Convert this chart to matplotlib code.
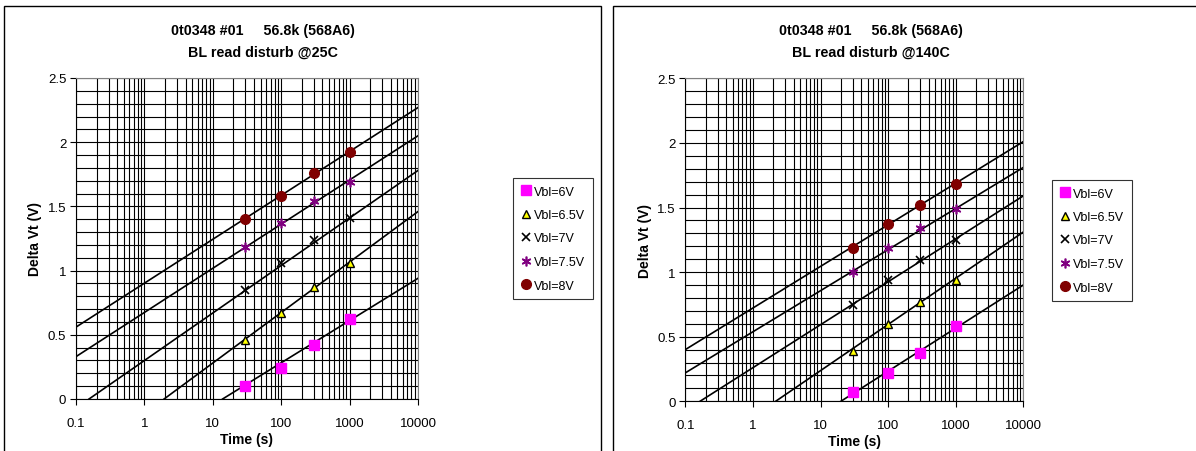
import matplotlib.pyplot as plt
from matplotlib.patches import Rectangle
from matplotlib.ticker import LogLocator, FixedLocator, NullFormatter

# --------------------------------------
# Data
# --------------------------------------
times = [30, 100, 300, 1000]
labels = ['Vbl=6V', 'Vbl=6.5V', 'Vbl=7V', 'Vbl=7.5V', 'Vbl=8V']

# measured points, 25C
pts_25 = [
    [0.10, 0.24, 0.42, 0.62],
    [0.46, 0.67, 0.87, 1.06],
    [0.85, 1.06, 1.24, 1.41],
    [1.18, 1.37, 1.54, 1.69],
    [1.40, 1.58, 1.76, 1.92],
]
# trend lines, 25C: (t start, dVt start, t end, dVt end)
fit_25 = [
    (13.9, 0.0, 10000, 0.94),
    (1.94, 0.0, 10000, 1.46),
    (0.155, 0.0, 10000, 1.78),
    (0.1, 0.33, 10000, 2.05),
    (0.1, 0.56, 10000, 2.27),
]

# measured points, 140C
pts_140 = [
    [0.075, 0.22, 0.37, 0.58],
    [0.39, 0.60, 0.77, 0.94],
    [0.745, 0.94, 1.09, 1.245],
    [1.00, 1.19, 1.34, 1.49],
    [1.19, 1.375, 1.52, 1.685],
]
fit_140 = [
    (20.0, 0.0, 10000, 0.90),
    (2.17, 0.0, 10000, 1.31),
    (0.165, 0.0, 10000, 1.59),
    (0.1, 0.22, 10000, 1.81),
    (0.1, 0.40, 10000, 2.01),
]

# style of each series (Excel look)
marqueurs = [
    dict(marker='s', color='#ff00ff', mec='#ff00ff', ms=6.5),
    dict(marker='^', color='#ffff00', mec='black', ms=5.5, mew=1.0),
    dict(marker='x', color='black', ms=6, mew=1.2),
    dict(marker=(6, 2, 0), color='#800080', ms=7, mew=1.2),
    dict(marker='o', color='#800000', mec='#800000', ms=7),
]

fig = plt.figure(figsize=(11.96, 4.52), dpi=100)
plt.rcParams['font.family'] = ['Liberation Sans', 'DejaVu Sans']

# cadres des deux graphiques
fig.patches.append(Rectangle((4 / 1196, -0.1), 597 / 1196, 1 - 7 / 452 + 0.1,
                             transform=fig.transFigure, fill=False, lw=1, ec='black'))
fig.patches.append(Rectangle((613 / 1196, -0.1), 600 / 1196, 1 - 7 / 452 + 0.1,
                             transform=fig.transFigure, fill=False, lw=1, ec='black'))


def trace(ax, pts, fits, titre, title_x, leg_x, leg_y):
    for i in range(len(labels)):
        t0, v0, t1, v1 = fits[i]
        ax.plot([t0, t1], [v0, v1], color='black', lw=1.2, zorder=3)
    for i in range(len(labels)):
        ax.plot(times, pts[i], ls='none', label=labels[i], zorder=4, **marqueurs[i])

    ax.set_xscale('log')
    ax.set_xlim(0.1, 10000)
    ax.set_ylim(0, 2.5)
    ax.xaxis.set_major_locator(FixedLocator([0.1, 1, 10, 100, 1000, 10000]))
    ax.xaxis.set_minor_locator(LogLocator(base=10, subs=range(2, 10)))
    ax.xaxis.set_minor_formatter(NullFormatter())
    ax.set_xticklabels(['0.1', '1', '10', '100', '1000', '10000'])
    ax.yaxis.set_major_locator(FixedLocator([0, 0.5, 1, 1.5, 2, 2.5]))
    ax.set_yticklabels(['0', '0.5', '1', '1.5', '2', '2.5'])
    ax.yaxis.set_minor_locator(FixedLocator([k / 10 for k in range(26)]))
    ax.grid(True, which='both', color='black', lw=0.8)
    ax.tick_params(which='major', labelsize=9.5, length=4, width=0.8, direction='out', pad=3)
    ax.tick_params(which='minor', length=0)
    ax.tick_params(axis='x', pad=9)
    for s in ['top', 'right']:
        ax.spines[s].set_color('#808080')
    for s in ['left', 'bottom']:
        ax.spines[s].set_color('black')
    ax.set_xlabel('Time (s)', fontsize=10, fontweight='bold', labelpad=2)
    ax.set_ylabel('Delta Vt (V)', fontsize=10, fontweight='bold', labelpad=4)

    fig.text(title_x, 1 - 31 / 452, '0t0348 #01     56.8k (568A6)', ha='center', va='center',
             fontsize=10.3, fontweight='bold')
    fig.text(title_x, 1 - 53 / 452, titre, ha='center', va='center',
             fontsize=10.3, fontweight='bold')

    leg = ax.legend(loc='upper left', bbox_to_anchor=(leg_x, leg_y), bbox_transform=fig.transFigure,
                    fontsize=9, frameon=True, fancybox=False, edgecolor='black',
                    handlelength=0.8, handletextpad=0.3, borderpad=0.6, labelspacing=0.92,
                    borderaxespad=0)
    leg.get_frame().set_linewidth(0.8)


ax1 = fig.add_axes([76 / 1196, 1 - 400 / 452, 342 / 1196, 321 / 452])
trace(ax1, pts_25, fit_25, 'BL read disturb @25C', 263 / 1196, 513 / 1196, 1 - 179 / 452)

ax2 = fig.add_axes([685.3 / 1196, 1 - 402.3 / 452, 338 / 1196, 323 / 452])
trace(ax2, pts_140, fit_140, 'BL read disturb @140C', 871 / 1196, 1052 / 1196, 1 - 181 / 452)

plt.savefig('out.png', dpi=100)
